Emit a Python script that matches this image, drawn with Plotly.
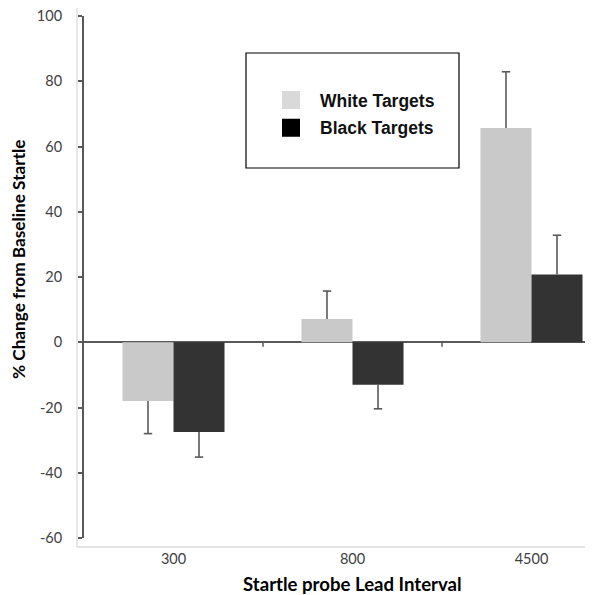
import plotly.graph_objects as go

categories = ["300", "800", "4500"]
series_names = ["White Targets", "Black Targets"]
white_values = [-18.0, 7.1, 65.7]
white_errors = [10.0, 8.6, 17.2]
black_values = [-27.5, -13.0, 20.8]
black_errors = [7.7, 7.4, 12.0]
y_ticks = [-60, -40, -20, 0, 20, 40, 60, 80, 100]
y_range = [-60, 100]

bar_colors = ["#c9c9c9", "#333333"]
legend_colors = ["#d9d9d9", "#000000"]
err_color = "#595959"
BARGAP = 0.43

# the page body has an 8px margin: lay the figure out in page pixels
OFF = 8
PAGE_W, PAGE_H = 593, 595
W, H = PAGE_W - OFF, PAGE_H - OFF
plot_l, plot_t, plot_b = 84, 16, 538          # page pixels
ML = plot_l - OFF
MT = plot_t - OFF
MB = H - (plot_b - OFF)
MR = 0
pw = W - ML - MR
ph = H - MT - MB
band_px = 179.0
x_hi = -0.5 + pw / band_px


def px2x(px):
    return (px - plot_l) / pw


def py2y(py):
    return (plot_b - py) / ph


x_pos = list(range(len(categories)))
n_series = 2
bar_w = (1 - BARGAP) / n_series

fig = go.Figure()
series = [(series_names[0], white_values, white_errors),
          (series_names[1], black_values, black_errors)]
for k, (name, vals, errs) in enumerate(series):
    plus = [e if v >= 0 else 0 for v, e in zip(vals, errs)]
    minus = [e if v < 0 else 0 for v, e in zip(vals, errs)]
    fig.add_trace(go.Bar(
        x=x_pos, y=vals, name=name, showlegend=False,
        marker=dict(color=bar_colors[k], line=dict(width=0)),
        error_y=dict(type="data", symmetric=False, array=plus, arrayminus=minus,
                     color=err_color, thickness=1.6, width=0),
    ))
    # caps at the outer end of each error bar
    offset = (k - (n_series - 1) / 2) * bar_w
    fig.add_trace(go.Scatter(
        x=[p + offset for p in x_pos],
        y=[v + (e if v >= 0 else -e) for v, e in zip(vals, errs)],
        mode="markers", showlegend=False, hoverinfo="skip",
        marker=dict(symbol="line-ew", size=6, color=err_color,
                    line=dict(color=err_color, width=1.6)),
    ))
# legend entries
for k, name in enumerate(series_names):
    fig.add_trace(go.Scatter(
        x=[None], y=[None], name=name, mode="markers", legendgroup=name,
        marker=dict(symbol="square", size=16, color=legend_colors[k],
                    line=dict(color=legend_colors[k], width=2)),
    ))

shapes = []
# light gray chart frame (left and bottom)
shapes.append(dict(type="line", xref="paper", yref="paper",
                   x0=px2x(77), x1=px2x(77), y0=py2y(547), y1=py2y(OFF),
                   line=dict(color="#d9d9d9", width=1.2)))
shapes.append(dict(type="line", xref="paper", yref="paper",
                   x0=px2x(77), x1=1.0, y0=py2y(547), y1=py2y(547),
                   line=dict(color="#c8c8c8", width=1.2)))
# category separator ticks on the zero line
for p in x_pos[:-1]:
    shapes.append(dict(type="line", xref="x", yref="y",
                       x0=p + 0.5, x1=p + 0.5, y0=0, y1=-1.4,
                       line=dict(color=err_color, width=1.5)))
# legend box
shapes.append(dict(type="rect", xref="paper", yref="paper",
                   x0=px2x(246), x1=px2x(459), y0=py2y(168), y1=py2y(53),
                   line=dict(color="#000000", width=1.2), fillcolor="rgba(0,0,0,0)"))

tick_font = dict(family="Lato, Carlito, sans-serif", size=14.5, color="#404040")
fig.update_layout(
    width=W, height=H,
    margin=dict(l=ML, r=MR, t=MT, b=MB, pad=0),
    paper_bgcolor="white", plot_bgcolor="white",
    barmode="group", bargap=BARGAP, bargroupgap=0,
    showlegend=True,
    legend=dict(x=px2x(262), y=py2y(82), xanchor="left", yanchor="top",
                bgcolor="rgba(0,0,0,0)", borderwidth=0, tracegroupgap=2,
                itemwidth=48, itemsizing="trace",
                font=dict(family="Liberation Sans, Arial", size=17.5, color="#111111", weight="bold")),
    shapes=shapes,
    xaxis=dict(range=[-0.5, x_hi], tickvals=x_pos, ticktext=categories,
               showline=False, ticks="", showgrid=False, zeroline=False,
               ticklabelstandoff=10, tickfont=tick_font),
    yaxis=dict(range=y_range, tickvals=y_ticks, ticktext=[str(t) for t in y_ticks],
               showgrid=False,
               showline=True, linecolor=err_color, linewidth=2,
               ticks="outside", ticklen=4, tickwidth=1.5, tickcolor=err_color,
               zeroline=True, zerolinecolor=err_color, zerolinewidth=1.6,
               ticklabelstandoff=13, ticklabeloverflow="allow",
               tickfont=tick_font),
    annotations=[
        dict(text="Startle probe Lead Interval", xref="x", yref="paper",
             x=1, y=py2y(584), xanchor="center", yanchor="middle", showarrow=False,
             font=dict(family="Lato, Carlito, sans-serif", size=18.6, color="#000000", weight="bold")),
        dict(text="% Change from Baseline Startle", xref="paper", yref="paper",
             x=px2x(18), y=py2y(259), xanchor="center", yanchor="middle", showarrow=False,
             textangle=-90,
             font=dict(family="Lato, Carlito, sans-serif", size=17.2, color="#000000", weight="bold")),
    ],
)

fig.write_html("out.html")
